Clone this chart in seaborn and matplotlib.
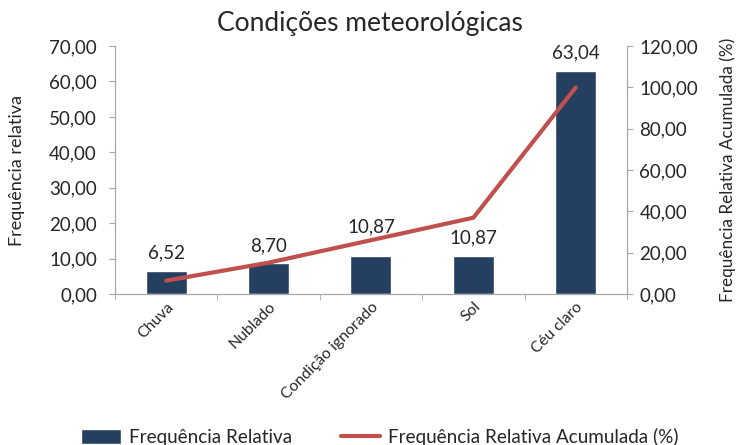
import matplotlib
matplotlib.use("Agg")
import numpy as np
import pandas as pd
import seaborn as sns
import matplotlib.pyplot as plt
from matplotlib.ticker import FuncFormatter, FixedLocator

categorias = ["Chuva", "Nublado", "Condição ignorado", "Sol", "Céu claro"]
freq_relativa = [6.52, 8.70, 10.87, 10.87, 63.04]
freq_acumulada = [6.52, 15.22, 26.09, 36.96, 100.00]

sns.set_style("white")
plt.rcParams['font.family'] = ['Lato', 'DejaVu Sans']

df = pd.DataFrame({"cond": categorias, "freq": freq_relativa, "acum": freq_acumulada})

fig = plt.figure(figsize=(7.39, 4.45), dpi=100)
ax = fig.add_axes([0.1556, 0.339, 0.6928, 0.5576])
grey = "#A6A6A6"
txt = "#262626"

sns.barplot(data=df, x="cond", y="freq", color="#243F60", width=0.4,
            saturation=1, ax=ax, label="Frequência Relativa")
ax.set_xlim(-0.5, 4.5)
ax.set_ylim(0, 70)
ax.set_yticks(np.arange(0, 71, 10))
fmt = FuncFormatter(lambda v, p: f"{v:.2f}".replace(".", ","))
ax.yaxis.set_major_formatter(fmt)
ax.tick_params(axis="y", labelsize=13.5, colors=txt, length=4, color=grey, left=True, pad=9)
ax.tick_params(axis="x", which="major", length=0, labelsize=11.3, colors=txt, pad=4)
ax.xaxis.set_minor_locator(FixedLocator(np.arange(-0.5, 5, 1)))
ax.tick_params(axis="x", which="minor", length=4, color=grey, bottom=True)
for lbl in ax.get_xticklabels():
    lbl.set_rotation(45)
    lbl.set_ha("right")
    lbl.set_rotation_mode("anchor")
ax.set_xlabel("")
ax.set_ylabel("Frequência relativa", fontsize=13, color=txt, labelpad=17)
ax.spines["top"].set_visible(False)
for s in ["left", "bottom", "right"]:
    ax.spines[s].set_color(grey)

# a etiqueta de "Condição ignorado" fica mais alta no original
extra = [0, 0, 3, 0, 0]
for i, v in enumerate(freq_relativa):
    ax.text(i, v + 2.6 + extra[i], f"{v:.2f}".replace(".", ","), ha="center",
            va="bottom", fontsize=13.5, color=txt)

ax2 = ax.twinx()
sns.lineplot(x=np.arange(len(categorias)), y=freq_acumulada, color="#C0504D",
             linewidth=3, ax=ax2, label="Frequência Relativa Acumulada (%)")
ax2.set_ylim(0, 120)
ax2.set_yticks(np.arange(0, 121, 20))
ax2.yaxis.set_major_formatter(fmt)
ax2.tick_params(axis="y", labelsize=13.5, colors=txt, length=4, color=grey, right=True, pad=5)
ax2.set_ylabel("Frequência Relativa Acumulada (%)", fontsize=12.3, color=txt, labelpad=15)
ax2.spines["top"].set_visible(False)
for s in ["left", "bottom", "right"]:
    ax2.spines[s].set_color(grey)

h1, l1 = ax.get_legend_handles_labels()
h2, l2 = ax2.get_legend_handles_labels()
ax.get_legend().remove()
ax2.get_legend().remove()
fig.legend(h1 + h2, l1 + l2, loc="center left", bbox_to_anchor=(0.087, 0.018),
           ncol=2, frameon=False, fontsize=13.6, handlelength=2.1, handleheight=0.9,
           handletextpad=0.4, columnspacing=2.6, labelcolor=txt)

fig.suptitle("Condições meteorológicas", fontsize=19, color=txt, y=0.975)

fig.savefig("out.png", dpi=100)
